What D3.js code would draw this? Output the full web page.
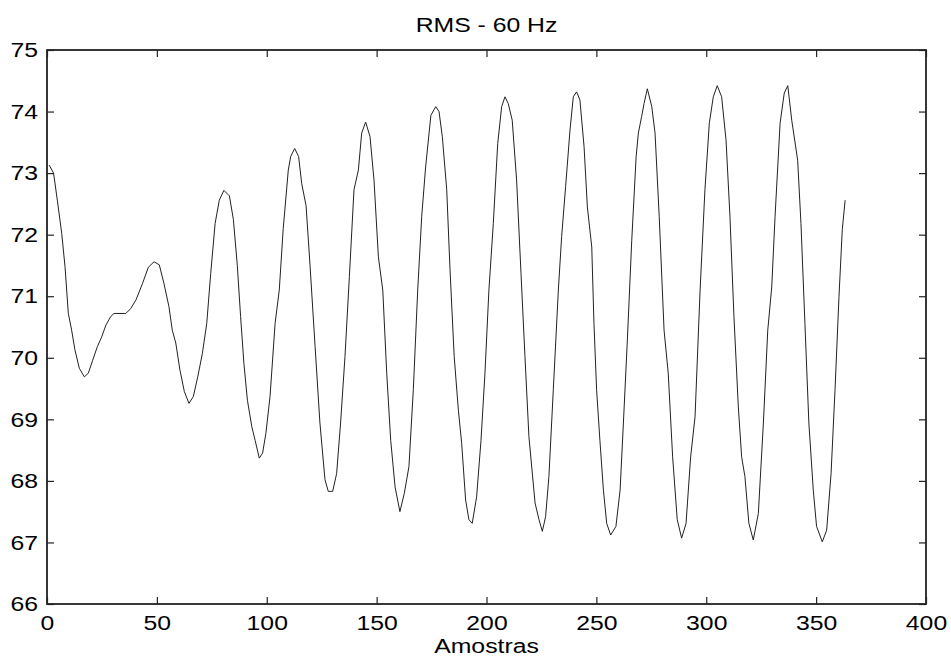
<!DOCTYPE html>
<html>
<head>
<meta charset="utf-8">
<script src="https://cdn.jsdelivr.net/npm/d3@7"></script>
<style>
  body { margin: 0; background: #fff; }
  text { font-family: "Liberation Sans", Arial, sans-serif; fill: #000; }
</style>
</head>
<body>
<svg id="chart" width="951" height="658"></svg>
<script>
// sample index
var samples = [1, 3, 4.7, 6.7, 8.2, 9.7, 11.2, 12.7, 14.7, 17, 18.8, 20.8, 22.9, 24.9, 26.8, 29, 30.5, 35.9, 38.1, 40.5,
    43.5, 46.1, 48.7, 51.1, 53.2, 55.5, 57, 58.6, 60.5, 62.5, 64.6, 66.6, 68.6, 70.7, 72.7, 74.5, 76.5, 78.4, 80.5, 83,
    84.8, 86.6, 88.1, 89.6, 91.2, 93.2, 94.7, 96.6, 98.1, 99.6, 101.5, 103.8, 105.7, 107.5, 109.8, 110.9, 112.7, 114.5, 115.9, 117.9,
    119.7, 122, 124.2, 126.5, 128, 130, 131.8, 133.6, 135.6, 137.6, 139.7, 141.7, 143.2, 145, 147, 148.8, 150.8, 152.8, 154.6, 156.4,
    158.4, 160.6, 162.6, 164.7, 166.7, 168.7, 170.5, 172.3, 174.7, 176.9, 178.4, 179.9, 181.9, 183.4, 185.3, 187.2, 188.7, 190.5, 192, 193.5,
    195.5, 197.5, 199.3, 201.1, 203.1, 205.1, 206.9, 208.4, 209.9, 211.7, 213.7, 215.7, 217.5, 219.3, 222.1, 223.9, 225.4, 226.9, 228.4, 230.4,
    232.7, 234.2, 236, 238, 239.5, 241, 242.5, 244.4, 245.9, 247.9, 248.9, 250.1, 251.6, 253.2, 254.7, 256.5, 258.9, 260.8, 262.3, 264.1,
    266.1, 268.1, 269.1, 270.6, 271.7, 273.2, 275.2, 276.7, 278.6, 280.8, 282.7, 284.7, 286.8, 288.8, 290.8, 292.9, 294.9, 297.2, 299.4, 301.4,
    303.2, 305, 307, 309, 310.8, 312.6, 314.6, 316.1, 317.6, 319.4, 321.4, 323.7, 326, 328, 329.8, 331.3, 333.6, 335.5, 337.1, 338.9,
    341.6, 343.1, 344.9, 346.7, 348.7, 350.2, 352.8, 354.8, 356.8, 358.6, 360.4, 361.9, 363.2];

// RMS value at each sample
var rms = [73.13, 73.0, 72.56, 72.02, 71.48, 70.72, 70.45, 70.13, 69.83, 69.69, 69.75, 69.96, 70.18, 70.34, 70.53, 70.67, 70.72, 70.72, 70.80, 70.94,
    71.21, 71.47, 71.56, 71.51, 71.21, 70.83, 70.45, 70.24, 69.80, 69.45, 69.26, 69.37, 69.69, 70.07, 70.56, 71.37, 72.18, 72.56, 72.72, 72.63,
    72.25, 71.5, 70.67, 69.91, 69.31, 68.88, 68.66, 68.37, 68.45, 68.77, 69.37, 70.56, 71.10, 72.10, 73.05, 73.27, 73.40, 73.27, 72.83, 72.47,
    71.5, 70.18, 68.94, 68.02, 67.83, 67.83, 68.12, 68.94, 70.02, 71.32, 72.73, 73.05, 73.65, 73.83, 73.59, 72.89, 71.64, 71.10, 69.75, 68.66,
    67.9, 67.50, 67.80, 68.23, 69.48, 71.10, 72.29, 73.10, 73.94, 74.08, 74.00, 73.59, 72.73, 71.43, 70.02, 69.15, 68.61, 67.69, 67.37, 67.31,
    67.74, 68.66, 69.75, 71.10, 72.18, 73.48, 74.08, 74.24, 74.13, 73.86, 72.89, 71.37, 70.02, 68.72, 67.64, 67.37, 67.18, 67.42, 68.07, 69.48,
    71.10, 71.97, 72.78, 73.7, 74.24, 74.32, 74.19, 73.43, 72.45, 71.80, 70.56, 69.48, 68.66, 67.85, 67.31, 67.12, 67.26, 67.85, 68.94, 70.29,
    71.91, 73.27, 73.65, 73.92, 74.13, 74.37, 74.08, 73.65, 72.29, 70.45, 69.75, 68.39, 67.37, 67.07, 67.31, 68.39, 69.04, 71.10, 72.73, 73.81,
    74.24, 74.42, 74.24, 73.54, 72.29, 70.67, 69.20, 68.39, 68.07, 67.31, 67.04, 67.47, 68.94, 70.45, 71.15, 72.29, 73.81, 74.30, 74.42, 73.86,
    73.21, 72.18, 70.56, 68.94, 67.85, 67.26, 67.01, 67.20, 68.12, 69.48, 70.99, 72.08, 72.56];

var xTicks = [0, 50, 100, 150, 200, 250, 300, 350, 400];
var yTicks = [66, 67, 68, 69, 70, 71, 72, 73, 74, 75];

var margin = {top: 50, right: 25, bottom: 54, left: 47};
var width = 951 - margin.left - margin.right;
var height = 658 - margin.top - margin.bottom;
var stretch = 1.18; // the original lettering is wider than Arial

var svg = d3.select("#chart");
var g = svg.append("g")
    .attr("transform", "translate(" + margin.left + "," + margin.top + ")");

var x = d3.scaleLinear().domain([0, 400]).range([0, width]);
var y = d3.scaleLinear().domain([66, 75]).range([height, 0]);

// axes, ticks pointing inward like matlab
var bottom = g.append("g")
    .attr("transform", "translate(0," + height + ")")
    .call(d3.axisBottom(x).tickValues(xTicks).tickSize(-7).tickSizeOuter(0).tickPadding(11));
var left = g.append("g")
    .call(d3.axisLeft(y).tickValues(yTicks).tickSize(-7).tickSizeOuter(0).tickPadding(9));
g.append("g")
    .call(d3.axisTop(x).tickValues(xTicks).tickSize(-7).tickSizeOuter(0).tickFormat(""));
g.append("g")
    .attr("transform", "translate(" + width + ",0)")
    .call(d3.axisRight(y).tickValues(yTicks).tickSize(-7).tickSizeOuter(0).tickFormat(""));

g.selectAll(".domain").remove();
g.selectAll(".tick line").attr("stroke", "#222").attr("stroke-width", 1.2);

bottom.selectAll("text")
    .style("font-size", "21px")
    .attr("transform", "scale(" + stretch + ",1)");
left.selectAll("text")
    .style("font-size", "21px")
    .attr("x", -9 / stretch)
    .attr("transform", "scale(" + stretch + ",1)");

// box
g.append("rect")
    .attr("width", width)
    .attr("height", height)
    .attr("fill", "none")
    .attr("stroke", "#222")
    .attr("stroke-width", 1.8);

// the signal
var line = d3.line()
    .x(function(d, i) { return x(samples[i]); })
    .y(function(d) { return y(d); });

g.append("path")
    .datum(rms)
    .attr("fill", "none")
    .attr("stroke", "#222")
    .attr("stroke-width", 1)
    .attr("d", line);

// title and label
svg.append("text")
    .attr("transform", "translate(" + (margin.left + width / 2) + ",32) scale(" + stretch + ",1)")
    .attr("text-anchor", "middle")
    .style("font-size", "21px")
    .text("RMS - 60 Hz");

svg.append("text")
    .attr("transform", "translate(" + (margin.left + width / 2) + ",653) scale(" + stretch + ",1)")
    .attr("text-anchor", "middle")
    .style("font-size", "21px")
    .text("Amostras");
</script>
</body>
</html>
